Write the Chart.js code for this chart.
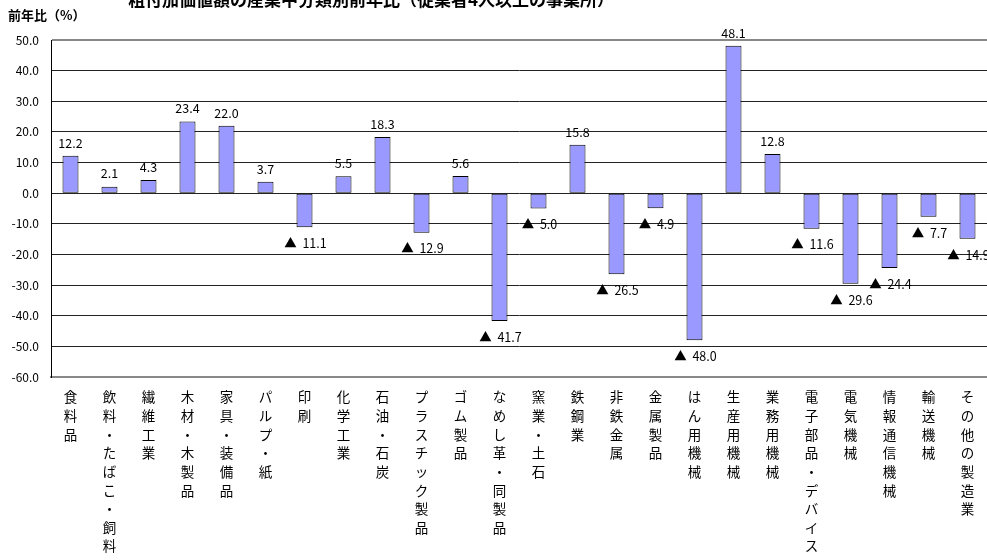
<!DOCTYPE html>
<html>
<head>
<meta charset="utf-8">
<script src="https://cdn.jsdelivr.net/npm/chart.js@4"></script>
<style>
  body { margin: 0; background: #fff; }
  #wrap { width: 987px; height: 560px; position: relative; }
</style>
</head>
<body>
<div id="wrap"><canvas id="myChart"></canvas></div>
<script>
// categories (industry)
let categories = [
    '食料品', '飲料・たばこ・飼料', '繊維工業', '木材・木製品', '家具・装備品', 'パルプ・紙',
    '印刷', '化学工業', '石油・石炭', 'プラスチック製品', 'ゴム製品', 'なめし革・同製品',
    '窯業・土石', '鉄鋼業', '非鉄金属', '金属製品', 'はん用機械', '生産用機械',
    '業務用機械', '電子部品・デバイス', '電気機械', '情報通信機械', '輸送機械', 'その他の製造業'
];
// year-on-year change (%)
let changes = [
    12.2, 2.1, 4.3, 23.4, 22.0, 3.7,
    -11.1, 5.5, 18.3, -12.9, 5.6, -41.7,
    -5.0, 15.8, -26.5, -4.9, -48.0, 48.1,
    12.8, -11.6, -29.6, -24.4, -7.7, -14.9
];
let yTicks = [50, 40, 30, 20, 10, 0, -10, -20, -30, -40, -50, -60];

let titleText = '粗付加価値額の産業中分類別前年比（従業者4人以上の事業所）';
let yTitle = '前年比（%）';
let fontName = '"Noto Sans CJK JP", "Noto Sans", sans-serif';

//vertical labels: one char per line
let verticalLabels = categories.map(c => c.split(''));

let textPlugin = {
    id: 'textPlugin',
    afterDraw(chart) {
        let ctx = chart.ctx;
        ctx.save();
        ctx.fillStyle = '#000';
        ctx.font = 'bold 17px ' + fontName;
        ctx.textAlign = 'center';
        ctx.textBaseline = 'middle';
        ctx.fillText(titleText, 371, 0);
        ctx.font = 'bold 13px ' + fontName;
        ctx.textAlign = 'left';
        ctx.fillText(yTitle, 8, 15);
        ctx.restore();
    }
};

let valueLabels = {
    id: 'valueLabels',
    afterDatasetsDraw(chart) {
        let ctx = chart.ctx;
        let meta = chart.getDatasetMeta(0);
        ctx.save();
        ctx.fillStyle = '#000';
        ctx.font = '12.5px ' + fontName;
        ctx.textAlign = 'center';
        ctx.textBaseline = 'middle';
        meta.data.forEach((bar, i) => {
            let v = changes[i];
            if (v >= 0) {
                ctx.fillText(v.toFixed(1), bar.x, bar.y - 13);
            } else {
                ctx.fillText('▲  ' + Math.abs(v).toFixed(1), bar.x + 1, bar.y + 16);
            }
        });
        ctx.restore();
    }
};

new Chart('myChart', {
    type: 'bar',
    data: {
        labels: verticalLabels,
        datasets: [{
            data: changes,
            backgroundColor: '#9999ff',
            borderColor: '#000',
            borderWidth: 1,
            borderSkipped: false,
            categoryPercentage: 1,
            barPercentage: 0.41
        }]
    },
    options: {
        responsive: true,
        maintainAspectRatio: false,
        animation: false,
        layout: { padding: { top: 40, left: 0, right: 0, bottom: 0 } },
        plugins: {
            legend: { display: false },
            title: { display: false },
            tooltip: { enabled: false }
        },
        scales: {
            x: {
                grid: { display: false },
                border: { display: true, color: '#888', width: 2 },
                ticks: {
                    color: '#000',
                    autoSkip: false,
                    maxRotation: 0,
                    minRotation: 0,
                    padding: 3,
                    font: { family: fontName, size: 13.5, lineHeight: 1.38 }
                },
                afterFit(scale) { scale.height = 183; }
            },
            y: {
                min: -60,
                max: 50,
                afterBuildTicks(scale) { scale.ticks = yTicks.map(v => ({ value: v })); },
                border: { display: true, color: '#000', width: 1 },
                grid: {
                    drawTicks: false,
                    color: ctx => (ctx.tick && (ctx.tick.value === 50 || ctx.tick.value === -60)) ? '#888' : '#222',
                    lineWidth: ctx => (ctx.tick && (ctx.tick.value === 50 || ctx.tick.value === -60)) ? 2 : 1
                },
                ticks: {
                    color: '#000',
                    padding: 12,
                    font: { family: fontName, size: 12 },
                    callback: v => v.toFixed(1)
                },
                afterFit(scale) { scale.width = 51; }
            }
        }
    },
    plugins: [textPlugin, valueLabels]
});
</script>
</body>
</html>
